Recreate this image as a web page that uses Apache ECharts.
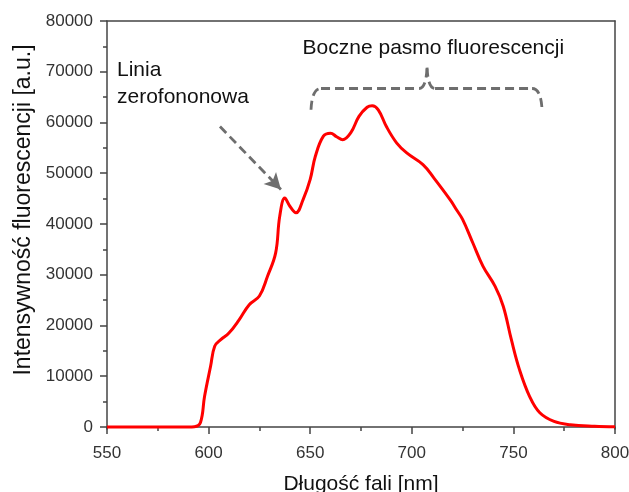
<!DOCTYPE html>
<html>
<head>
<meta charset="utf-8">
<script src="https://cdn.jsdelivr.net/npm/echarts@6/dist/echarts.min.js"></script>
<style>
html,body{margin:0;padding:0;background:#fff;}
#c{width:629px;height:492px;}
</style>
</head>
<body>
<div id="c"></div>
<script>
// ---- data ----
var wavelengths = [550,570,590,593,596,598,601,603,606,610,615,620,625,629,633,635,637.5,640,643,646.5,650,652.5,656.5,660,663,666,670,674,678,680.5,683.5,687.5,692.5,697.5,705.5,711,719,722,725,730,735,741,745,749,753,758,763,770,778,790,800];
var intensities = [0,0,0,60,900,6000,12000,15900,17200,18500,21100,24100,25800,29700,34300,41500,45100,43500,42200,44800,48800,53300,57300,57900,57200,56600,58000,61200,63000,63300,62500,59200,56000,54000,51700,49000,44700,42800,40900,36300,31700,27700,23800,17200,11300,6000,2800,1100,450,150,50];
var yMajorTicks = [0,10000,20000,30000,40000,50000,60000,70000,80000];
var yMinorTicks = [5000,15000,25000,35000,45000,55000,65000,75000];
var xAxisTitle = 'Długość fali [nm]';
var yAxisTitle = 'Intensywność fluorescencji [a.u.]';
var zplLabel = ['Linia', 'zerofononowa'];
var bandLabel = 'Boczne pasmo fluorescencji';
// annotation anchors in data space [nm, value]
var zplArrow = [[605.6, 59200], [635.6, 46800]];
var zplTextAnchor = [554.9, 67600];
var braceLeft = 650.4, braceRight = 764.1, braceMid = 707.5;
var braceEndVal = 62500, braceLineVal = 66700, braceTipVal = 70800;
var bandTextAnchor = [710.6, 74700];

var seriesData = wavelengths.map(function(w, i){ return [w, intensities[i]]; });

var FONT = 'Liberation Sans, Arial, sans-serif';
var AX = '#444';
var chart = echarts.init(document.getElementById('c'), null, {renderer: 'canvas'});

var option = {
  animation: false,
  backgroundColor: '#fff',
  grid: {left: 107, right: 14, top: 21, bottom: 63, containLabel: false, outerBoundsMode: 'none'},
  xAxis: [{
    type: 'value', min: 550, max: 800, interval: 50, position: 'bottom',
    name: xAxisTitle, nameLocation: 'middle', nameGap: 45,
    nameTextStyle: {fontFamily: FONT, fontSize: 21, color: '#111'},
    axisLine: {show: true, lineStyle: {color: AX, width: 1.5}},
    axisTick: {show: true, inside: false, length: 7, lineStyle: {color: AX, width: 1.5}},
    minorTick: {show: true, splitNumber: 2, length: 4, lineStyle: {color: AX, width: 1.5}},
    axisLabel: {fontFamily: FONT, fontSize: 17, color: '#333', margin: 16},
    splitLine: {show: false}
  }, {
    type: 'value', min: 550, max: 800, position: 'top',
    axisLine: {show: true, onZero: false, lineStyle: {color: AX, width: 1.5}},
    axisTick: {show: false}, axisLabel: {show: false}, splitLine: {show: false}
  }],
  yAxis: [{
    type: 'value', min: -400, max: 80000, position: 'left',
    name: yAxisTitle, nameLocation: 'middle', nameGap: 72, nameRotate: 90,
    nameTextStyle: {fontFamily: FONT, fontSize: 23, color: '#111', padding: [0, 0, 0, 30]},
    axisLine: {show: true, onZero: false, lineStyle: {color: AX, width: 1.5}},
    axisTick: {show: true, inside: false, length: 7, customValues: yMajorTicks, lineStyle: {color: AX, width: 1.5}},
    axisLabel: {fontFamily: FONT, fontSize: 17, color: '#333', margin: 14, customValues: yMajorTicks,
      formatter: function(v){ return String(Math.round(v)); }},
    splitLine: {show: false}
  }, {
    type: 'value', min: -400, max: 80000, position: 'left',
    axisLine: {show: false},
    axisTick: {show: true, inside: false, length: 4, customValues: yMinorTicks, lineStyle: {color: AX, width: 1.5}},
    axisLabel: {show: false}, splitLine: {show: false}
  }, {
    type: 'value', min: -400, max: 80000, position: 'right',
    axisLine: {show: true, onZero: false, lineStyle: {color: AX, width: 1.5}},
    axisTick: {show: false}, axisLabel: {show: false}, splitLine: {show: false}
  }],
  series: [{
    type: 'line', xAxisIndex: 0, yAxisIndex: 0,
    data: seriesData, smooth: 0.4, showSymbol: false,
    lineStyle: {color: '#ff0000', width: 3},
    markLine: {
      silent: true, symbol: ['none', 'arrow'], symbolSize: [13, 16],
      label: {show: false},
      lineStyle: {color: '#6e6e6e', width: 2.8, type: [9, 5]},
      data: [[{coord: zplArrow[0]}, {coord: zplArrow[1]}]]
    }
  }]
};
chart.setOption(option);

function px(p){ return chart.convertToPixel({xAxisIndex: 0, yAxisIndex: 0}, p); }
var L0 = px([braceLeft, braceEndVal]), L1 = px([braceLeft, braceLineVal]);
var R0 = px([braceRight, braceEndVal]), R1 = px([braceRight, braceLineVal]);
var M1 = px([braceMid, braceLineVal]), MT = px([braceMid, braceTipVal]);
var r = 10;
var dash = {stroke: '#6e6e6e', lineWidth: 2.8, lineDash: [9, 5], fill: null};
var zt = px(zplTextAnchor), bt = px(bandTextAnchor);
chart.setOption({
  graphic: [
    {type: 'bezierCurve', silent: true, shape: {x1: L0[0], y1: L0[1], cpx1: L0[0] + 1, cpy1: L1[1], x2: L0[0] + r, y2: L1[1]}, style: dash},
    {type: 'line', silent: true, shape: {x1: L0[0] + r, y1: L1[1], x2: M1[0] - 8, y2: L1[1]}, style: dash},
    {type: 'bezierCurve', silent: true, shape: {x1: M1[0] - 8, y1: L1[1], cpx1: M1[0] - 1, cpy1: L1[1], x2: MT[0], y2: MT[1]}, style: dash},
    {type: 'bezierCurve', silent: true, shape: {x1: MT[0], y1: MT[1], cpx1: MT[0] + 1, cpy1: L1[1], x2: M1[0] + 8, y2: L1[1]}, style: dash},
    {type: 'line', silent: true, shape: {x1: M1[0] + 8, y1: L1[1], x2: R0[0] - r, y2: L1[1]}, style: dash},
    {type: 'bezierCurve', silent: true, shape: {x1: R0[0] - r, y1: R1[1], cpx1: R0[0] - 1, cpy1: R1[1], x2: R0[0], y2: R0[1]}, style: dash},
    {type: 'text', silent: true, x: zt[0], y: zt[1], style: {text: zplLabel.join('\n'), font: '21px ' + FONT, fill: '#111', lineHeight: 27, verticalAlign: 'middle', align: 'left'}},
    {type: 'text', silent: true, x: bt[0], y: bt[1], style: {text: bandLabel, font: '21px ' + FONT, fill: '#111', verticalAlign: 'middle', align: 'center'}}
  ]
});
</script>
</body>
</html>
